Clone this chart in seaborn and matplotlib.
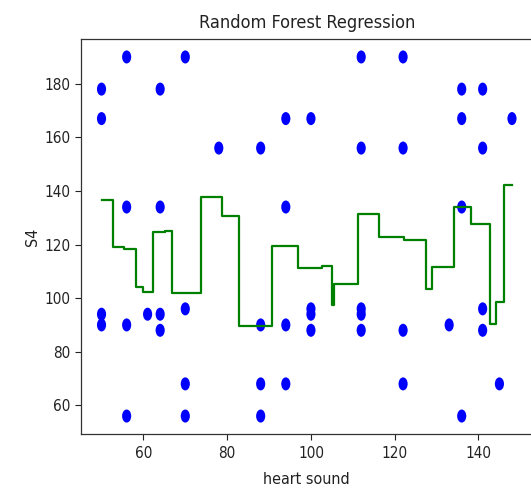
import numpy as np
import pandas as pd
import matplotlib
matplotlib.use("Agg")
import matplotlib.pyplot as plt
from matplotlib.path import Path
from matplotlib.transforms import Affine2D
import seaborn as sns

# ---- data ----
heart_sound = [50, 50, 50, 50,
               56, 56, 56, 56,
               61,
               64, 64, 64, 64,
               70, 70, 70, 70,
               78,
               88, 88, 88, 88,
               94, 94, 94, 94,
               100, 100, 100, 100,
               112, 112, 112, 112, 112,
               122, 122, 122, 122,
               133,
               136, 136, 136, 136,
               141, 141, 141, 141,
               145,
               148]
s4 = [178, 167, 94, 90,
      190, 134, 90, 56,
      94,
      178, 134, 94, 88,
      190, 96, 68, 56,
      156,
      156, 90, 68, 56,
      167, 134, 90, 68,
      167, 96, 94, 88,
      190, 156, 96, 94, 88,
      190, 156, 88, 68,
      90,
      178, 167, 134, 56,
      178, 156, 96, 88,
      68,
      167]

# random forest prediction (step function): start of each step and its value
grid_x = [50, 52.8, 55.4, 58.2, 59.8, 62.4, 65.2, 66.8, 73.7, 78.8, 82.9, 90.8,
          96.8, 102.7, 105.1, 105.6, 111.3, 116.3, 122.3, 127.4, 128.8, 134.2,
          138.2, 142.7, 144.2, 146.1, 148]
grid_pred = [136.7, 118.9, 118.5, 104.2, 102.4, 124.8, 125.2, 102.1, 137.6, 130.8,
             89.5, 119.4, 111.3, 112.1, 97.4, 105.2, 131.3, 122.7, 121.8, 103.4,
             111.6, 134.1, 127.7, 90.5, 98.4, 142.2, 142.2]

title = "Random Forest Regression"
xlabel = "heart sound"
ylabel = "S4"

plt.rcParams['font.family'] = ['DejaVu Sans Condensed', 'DejaVu Sans']
plt.rcParams['font.stretch'] = 'condensed'

fig = plt.figure(figsize=(5.31, 4.88), dpi=100)
ax = fig.add_axes([81 / 531, 1 - 434 / 488, (532.5 - 81) / 531, (434 - 39) / 488])

pts = pd.DataFrame({"heart sound": heart_sound, "S4": s4})
line = pd.DataFrame({"x": grid_x, "y": grid_pred})

circle = Path.unit_circle()
ellipse = circle.transformed(Affine2D().scale(0.7, 1.0))
sns.scatterplot(data=pts, x="heart sound", y="S4", ax=ax, color="blue",
                marker=ellipse, s=9.4 ** 2, linewidth=0, edgecolor="none", zorder=2)
sns.lineplot(data=line, x="x", y="y", ax=ax, color="green", linewidth=1.6,
             drawstyle="steps-post", estimator=None, sort=False, zorder=3)

ax.margins(0.05)
ax.set_xticks([60, 80, 100, 120, 140])
ax.set_yticks([60, 80, 100, 120, 140, 160, 180])
ax.tick_params(labelsize=11, length=4, width=0.8, colors="#222222")
ax.tick_params(axis="x", pad=4.5)
ax.set_title(title, fontsize=13, color="#222222", pad=8)
ax.set_xlabel(xlabel, fontsize=11.5, color="#222222", labelpad=8)
ax.set_ylabel(ylabel, fontsize=11.5, color="#222222", labelpad=3.5)
for sp in ax.spines.values():
    sp.set_color("#333333")
    sp.set_linewidth(0.9)

fig.savefig("out.png", dpi=100)
